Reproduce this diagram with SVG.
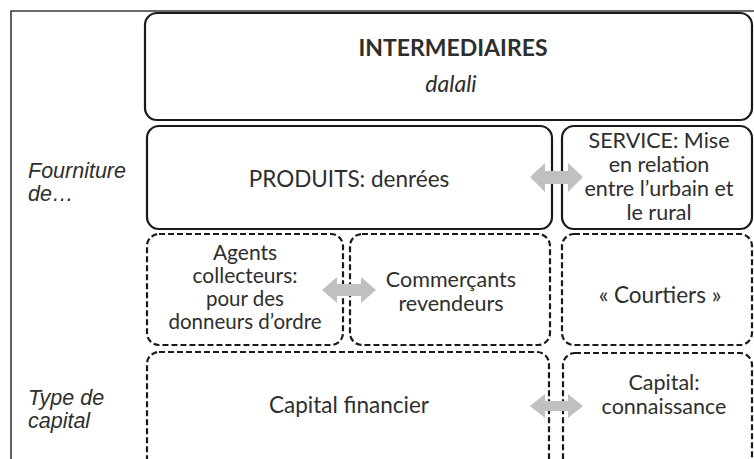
<svg xmlns="http://www.w3.org/2000/svg" width="754" height="459" viewBox="0 0 754 459">
<defs>
<style>
.frame{fill:none;stroke:#3a3a3a;stroke-width:1.6}
.box{fill:#fff;stroke:#1a1a1a;stroke-width:2.2}
.dbox{fill:#fff;stroke:#1a1a1a;stroke-width:2.2;stroke-dasharray:6,3}
.t{font-family:Lato,"Open Sans",sans-serif;fill:#2e2e2e;text-anchor:middle;font-size:21.5px}
.tl{font-size:22.5px}
.tm{font-size:21px}
.tb{font-weight:bold;font-size:23px}
.ti{font-style:italic;font-size:23px}
.ts{font-size:20.5px}
.lab{font-family:"Liberation Sans",Arial,sans-serif;font-style:italic;fill:#2e2e2e;font-size:21.5px}
.arr{fill:#c0c0c0}
</style>
</defs>
<rect width="754" height="459" fill="#fff"/>
<path class="frame" d="M11,459 V11 H754"/>
<g id="intermediaires">
<rect class="box" x="145" y="13" width="607" height="107" rx="12"/>
<text class="t tb" x="453" y="56">INTERMEDIAIRES</text>
<text class="t ti" x="451" y="92">dalali</text>
</g>
<g id="label-fourniture">
<text class="lab" x="28" y="178">Fourniture</text>
<text class="lab" x="28" y="201">de…</text>
</g>
<g id="label-capital">
<text class="lab" x="28" y="405">Type de</text>
<text class="lab" x="28" y="428">capital</text>
</g>
<g id="produits">
<rect class="box" x="147" y="126" width="405" height="103" rx="12"/>
<text class="t tl" x="349" y="187">PRODUITS: denrées</text>
</g>
<g id="service">
<rect class="box" x="562" y="126" width="190" height="103" rx="12"/>
<text class="t" x="659" y="148">SERVICE: Mise</text>
<text class="t" x="659" y="172">en relation</text>
<text class="t" x="659" y="196">entre l’urbain et</text>
<text class="t" x="659" y="220">le rural</text>
</g>
<g id="agents">
<rect class="dbox" x="147" y="234" width="196" height="111" rx="12"/>
<text class="t tm" x="245" y="260">Agents</text>
<text class="t tm" x="245" y="283">collecteurs:</text>
<text class="t ts" x="245" y="306">pour des</text>
<text class="t ts" x="245" y="329">donneurs d’ordre</text>
</g>
<g id="commercants">
<rect class="dbox" x="350" y="234" width="200" height="111" rx="12"/>
<text class="t" x="451" y="287">Commerçants</text>
<text class="t" x="451" y="311">revendeurs</text>
</g>
<g id="courtiers">
<rect class="dbox" x="562" y="234" width="190" height="111" rx="12"/>
<text class="t tl" x="660" y="303">« Courtiers »</text>
</g>
<g id="capital-financier">
<rect class="dbox" x="147" y="352" width="402" height="130" rx="12"/>
<text class="t tl" x="349" y="413">Capital financier</text>
</g>
<g id="capital-connaissance">
<rect class="dbox" x="563" y="353" width="189" height="130" rx="12"/>
<text class="t" x="664" y="390">Capital:</text>
<text class="t" x="664" y="414">connaissance</text>
</g>
<g id="connectors">
<polygon class="arr" points="530,177 545,163 545,171 568,171 568,163 583,177 568,192 568,184 545,184 545,192"/>
<polygon class="arr" points="322,290 337,277 337,284 361,284 361,277 376,290 361,303 361,296 337,296 337,303"/>
<polygon class="arr" points="530,406 545,394 545,401 568,401 568,394 583,406 568,418 568,411 545,411 545,418"/>
</g>
</svg>
